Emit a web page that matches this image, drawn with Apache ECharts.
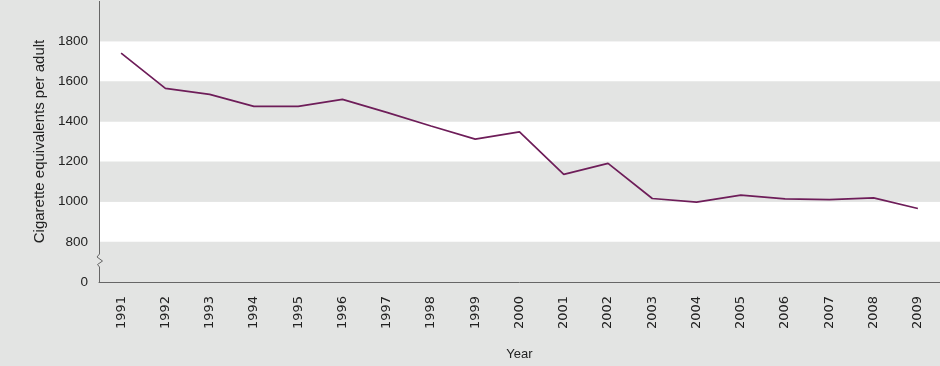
<!DOCTYPE html>
<html>
<head>
<meta charset="utf-8">
<script src="https://cdn.jsdelivr.net/npm/echarts@6/dist/echarts.min.js"></script>
<style>
html,body{margin:0;padding:0;background:#e3e4e3;}
#chart{width:940px;height:366px;}
</style>
</head>
<body>
<div id="chart"></div>
<script>
const years = ['1991','1992','1993','1994','1995','1996','1997','1998','1999','2000','2001','2002','2003','2004','2005','2006','2007','2008','2009'];
const cigarettes = [1740, 1565, 1535, 1475, 1475, 1510, 1445, 1377, 1312, 1348, 1136, 1191, 1016, 998, 1033, 1014, 1010, 1019, 966];
// axis: the bottom band stands for the broken range, labelled 0
const yMin = 600, yMax = 2000, yStep = 200;
const yBreakLabel = {600: '0', 2000: ''};

const FONT = 'Liberation Sans';
const BG = '#e3e4e3';
const GRID_LEFT = 99;

const chart = echarts.init(document.getElementById('chart'), null, {renderer: 'canvas'});
chart.setOption({
  backgroundColor: BG,
  animation: false,
  grid: {left: GRID_LEFT, right: 0, top: 1, bottom: 84},
  xAxis: {
    type: 'category',
    data: years,
    boundaryGap: true,
    name: 'Year',
    nameLocation: 'middle',
    nameGap: 66,
    nameTextStyle: {fontFamily: FONT, fontSize: 13, color: '#222'},
    axisLine: {lineStyle: {color: '#666', width: 1}},
    axisTick: {alignWithLabel: true, length: 4, lineStyle: {color: '#666'}},
    axisLabel: {rotate: 90, margin: 14, fontFamily: 'DejaVu Sans', fontSize: 13, color: '#222'},
    splitLine: {show: false}
  },
  yAxis: {
    type: 'value',
    min: yMin, max: yMax, interval: yStep,
    name: 'Cigarette equivalents per adult',
    nameLocation: 'middle',
    nameGap: 50,
    nameTextStyle: {fontFamily: FONT, fontSize: 15, color: '#222'},
    axisLine: {show: false},
    axisTick: {show: false},
    axisLabel: {
      margin: 11, fontFamily: FONT, fontSize: 13.5, color: '#222',
      formatter: v => (v in yBreakLabel ? yBreakLabel[v] : String(v))
    },
    splitLine: {show: false},
    splitArea: {show: true, areaStyle: {color: [BG, '#ffffff']}}
  },
  series: [{
    type: 'line',
    data: cigarettes,
    symbol: 'none',
    lineStyle: {color: '#6e1d59', width: 1.7},
    z: 3
  }]
});

// y-axis line with break zigzag between the "0" label and 800
function drawAxis() {
  const yTop = chart.convertToPixel({yAxisIndex: 0}, yMax);
  const yBot = chart.convertToPixel({yAxisIndex: 0}, yMin);
  const x = GRID_LEFT + 0.5;
  chart.setOption({
    graphic: [{
      type: 'polyline',
      shape: {points: [
        [x, yTop], [x, yBot - 28], [x - 2.5, yBot - 25], [x + 3, yBot - 21],
        [x - 2, yBot - 17.5], [x, yBot - 15], [x, yBot]
      ]},
      style: {stroke: '#666', lineWidth: 1, fill: null},
      z: 10
    }]
  });
}
drawAxis();
</script>
</body>
</html>
